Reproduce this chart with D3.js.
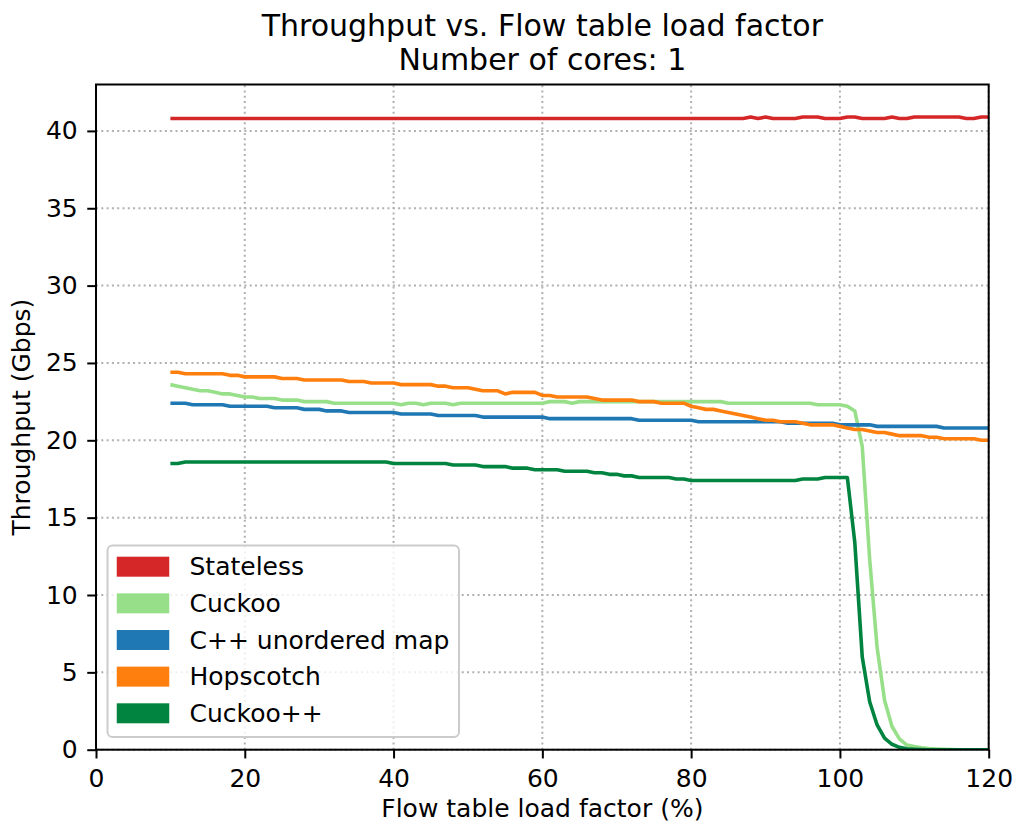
<!DOCTYPE html>
<html>
<head>
<meta charset="utf-8">
<script src="https://cdn.jsdelivr.net/npm/d3@7"></script>
<style>
  html, body { margin: 0; padding: 0; background: #ffffff; }
  svg { display: block; font-family: "DejaVu Sans", sans-serif; }
</style>
</head>
<body>
<svg id="chart" width="1016" height="826"></svg>
<script>
// Flow table load factor (%), one sample per percent
const loadFactor = [
  10, 11, 12, 13, 14, 15, 16, 17, 18, 19,
  20, 21, 22, 23, 24, 25, 26, 27, 28, 29,
  30, 31, 32, 33, 34, 35, 36, 37, 38, 39,
  40, 41, 42, 43, 44, 45, 46, 47, 48, 49,
  50, 51, 52, 53, 54, 55, 56, 57, 58, 59,
  60, 61, 62, 63, 64, 65, 66, 67, 68, 69,
  70, 71, 72, 73, 74, 75, 76, 77, 78, 79,
  80, 81, 82, 83, 84, 85, 86, 87, 88, 89,
  90, 91, 92, 93, 94, 95, 96, 97, 98, 99,
  100, 101, 102, 103, 104, 105, 106, 107, 108, 109,
  110, 111, 112, 113, 114, 115, 116, 117, 118, 119,
  120
];

// Throughput in Gbps for each implementation
const stateless = [
  40.8, 40.8, 40.8, 40.8, 40.8, 40.8, 40.8, 40.8, 40.8, 40.8,
  40.8, 40.8, 40.8, 40.8, 40.8, 40.8, 40.8, 40.8, 40.8, 40.8,
  40.8, 40.8, 40.8, 40.8, 40.8, 40.8, 40.8, 40.8, 40.8, 40.8,
  40.8, 40.8, 40.8, 40.8, 40.8, 40.8, 40.8, 40.8, 40.8, 40.8,
  40.8, 40.8, 40.8, 40.8, 40.8, 40.8, 40.8, 40.8, 40.8, 40.8,
  40.8, 40.8, 40.8, 40.8, 40.8, 40.8, 40.8, 40.8, 40.8, 40.8,
  40.8, 40.8, 40.8, 40.8, 40.8, 40.8, 40.8, 40.8, 40.8, 40.8,
  40.8, 40.8, 40.8, 40.8, 40.8, 40.8, 40.8, 40.8, 40.9, 40.8,
  40.9, 40.8, 40.8, 40.8, 40.8, 40.9, 40.9, 40.9, 40.8, 40.8,
  40.8, 40.9, 40.9, 40.8, 40.8, 40.8, 40.8, 40.9, 40.8, 40.8,
  40.9, 40.9, 40.9, 40.9, 40.9, 40.9, 40.9, 40.8, 40.8, 40.9,
  40.9
];

const cuckoo = [
  23.6, 23.5, 23.4, 23.3, 23.2, 23.2, 23.1, 23.0, 23.0, 22.9,
  22.8, 22.8, 22.7, 22.7, 22.7, 22.6, 22.6, 22.6, 22.5, 22.5,
  22.5, 22.5, 22.4, 22.4, 22.4, 22.4, 22.4, 22.4, 22.4, 22.4,
  22.4, 22.3, 22.4, 22.4, 22.3, 22.4, 22.4, 22.4, 22.3, 22.4,
  22.4, 22.4, 22.4, 22.4, 22.4, 22.4, 22.4, 22.4, 22.4, 22.4,
  22.4, 22.5, 22.5, 22.5, 22.4, 22.5, 22.5, 22.5, 22.5, 22.5,
  22.5, 22.5, 22.5, 22.5, 22.5, 22.5, 22.5, 22.5, 22.5, 22.5,
  22.5, 22.5, 22.5, 22.5, 22.5, 22.4, 22.4, 22.4, 22.4, 22.4,
  22.4, 22.4, 22.4, 22.4, 22.4, 22.4, 22.4, 22.3, 22.3, 22.3,
  22.3, 22.2, 21.9, 19.6, 12.3, 6.6, 3.2, 1.5, 0.7, 0.3,
  0.2, 0.12, 0.07, 0.04, 0.02, 0.01, 0, 0, 0, 0,
  0
];

const cppUnorderedMap = [
  22.4, 22.4, 22.4, 22.3, 22.3, 22.3, 22.3, 22.3, 22.2, 22.2,
  22.2, 22.2, 22.2, 22.2, 22.1, 22.1, 22.1, 22.1, 22.0, 22.0,
  22.0, 21.9, 21.9, 21.9, 21.8, 21.8, 21.8, 21.8, 21.8, 21.8,
  21.8, 21.7, 21.7, 21.7, 21.7, 21.7, 21.6, 21.6, 21.6, 21.6,
  21.6, 21.6, 21.5, 21.5, 21.5, 21.5, 21.5, 21.5, 21.5, 21.5,
  21.5, 21.4, 21.4, 21.4, 21.4, 21.4, 21.4, 21.4, 21.4, 21.4,
  21.4, 21.4, 21.4, 21.3, 21.3, 21.3, 21.3, 21.3, 21.3, 21.3,
  21.3, 21.2, 21.2, 21.2, 21.2, 21.2, 21.2, 21.2, 21.2, 21.2,
  21.2, 21.2, 21.2, 21.1, 21.1, 21.1, 21.1, 21.1, 21.1, 21.1,
  21.0, 21.0, 21.0, 21.0, 21.0, 20.9, 20.9, 20.9, 20.9, 20.9,
  20.9, 20.9, 20.9, 20.9, 20.8, 20.8, 20.8, 20.8, 20.8, 20.8,
  20.8
];

const hopscotch = [
  24.4, 24.4, 24.3, 24.3, 24.3, 24.3, 24.3, 24.3, 24.2, 24.2,
  24.1, 24.1, 24.1, 24.1, 24.1, 24.0, 24.0, 24.0, 23.9, 23.9,
  23.9, 23.9, 23.9, 23.9, 23.8, 23.8, 23.8, 23.7, 23.7, 23.7,
  23.7, 23.6, 23.6, 23.6, 23.6, 23.6, 23.5, 23.5, 23.4, 23.4,
  23.4, 23.3, 23.2, 23.2, 23.2, 23.0, 23.1, 23.1, 23.1, 23.1,
  22.9, 22.9, 22.8, 22.8, 22.8, 22.8, 22.8, 22.7, 22.6, 22.6,
  22.6, 22.6, 22.6, 22.5, 22.5, 22.5, 22.4, 22.4, 22.4, 22.4,
  22.2, 22.1, 22.0, 22.0, 21.9, 21.8, 21.7, 21.6, 21.5, 21.4,
  21.3, 21.3, 21.2, 21.2, 21.2, 21.1, 21.0, 21.0, 21.0, 21.0,
  20.9, 20.8, 20.7, 20.7, 20.6, 20.5, 20.5, 20.4, 20.3, 20.3,
  20.3, 20.3, 20.2, 20.2, 20.1, 20.1, 20.1, 20.1, 20.1, 20.0,
  20.0
];

const cuckooPlusPlus = [
  18.5, 18.5, 18.6, 18.6, 18.6, 18.6, 18.6, 18.6, 18.6, 18.6,
  18.6, 18.6, 18.6, 18.6, 18.6, 18.6, 18.6, 18.6, 18.6, 18.6,
  18.6, 18.6, 18.6, 18.6, 18.6, 18.6, 18.6, 18.6, 18.6, 18.6,
  18.5, 18.5, 18.5, 18.5, 18.5, 18.5, 18.5, 18.5, 18.4, 18.4,
  18.4, 18.4, 18.3, 18.3, 18.3, 18.3, 18.2, 18.2, 18.2, 18.1,
  18.1, 18.1, 18.1, 18.0, 18.0, 18.0, 18.0, 17.9, 17.9, 17.8,
  17.8, 17.7, 17.7, 17.6, 17.6, 17.6, 17.6, 17.6, 17.5, 17.5,
  17.4, 17.4, 17.4, 17.4, 17.4, 17.4, 17.4, 17.4, 17.4, 17.4,
  17.4, 17.4, 17.4, 17.4, 17.4, 17.5, 17.5, 17.5, 17.6, 17.6,
  17.6, 17.6, 13.4, 6.0, 3.1, 1.6, 0.75, 0.35, 0.15, 0.06,
  0.03, 0.01, 0, 0, 0, 0, 0, 0, 0, 0,
  0
];

const seriesNames = ["Stateless", "Cuckoo", "C++ unordered map", "Hopscotch", "Cuckoo++"];
const seriesValues = [stateless, cuckoo, cppUnorderedMap, hopscotch, cuckooPlusPlus];
const seriesColors = ["#d62728", "#98df8a", "#1f77b4", "#ff7f0e", "#00843f"];

const xTicks = [0, 20, 40, 60, 80, 100, 120];
const yTicks = [0, 5, 10, 15, 20, 25, 30, 35, 40];

const titleLines = ["Throughput vs. Flow table load factor", "Number of cores: 1"];
const xLabel = "Flow table load factor (%)";
const yLabel = "Throughput (Gbps)";

// ---- layout ----
const W = 1016, H = 826;
const plot = { left: 96, right: 988.7, top: 84.5, bottom: 749.7 };
const FONT = 25;

const x = d3.scaleLinear().domain([0, 120]).range([plot.left, plot.right]);
const y = d3.scaleLinear().domain([0, 43]).range([plot.bottom, plot.top]);

const svg = d3.select("#chart");
svg.append("rect").attr("width", W).attr("height", H).attr("fill", "#ffffff");

svg.append("defs").append("clipPath").attr("id", "plot-clip")
  .append("rect")
  .attr("x", plot.left).attr("y", plot.top)
  .attr("width", plot.right - plot.left)
  .attr("height", plot.bottom - plot.top);

// dotted grid
const grid = svg.append("g")
  .attr("stroke", "#b0b0b0")
  .attr("stroke-width", 2)
  .attr("stroke-dasharray", "2,3.3")
  .attr("fill", "none");
grid.selectAll("line.gx").data(xTicks).join("line")
  .attr("class", "gx")
  .attr("x1", d => x(d)).attr("x2", d => x(d))
  .attr("y1", plot.bottom).attr("y2", plot.top);
grid.selectAll("line.gy").data(yTicks).join("line")
  .attr("class", "gy")
  .attr("x1", plot.left).attr("x2", plot.right)
  .attr("y1", d => y(d)).attr("y2", d => y(d));

// series lines
const line = d3.line()
  .x((d, i) => x(loadFactor[i]))
  .y(d => y(d));

const lines = svg.append("g").attr("clip-path", "url(#plot-clip)");
seriesValues.forEach((vals, k) => {
  lines.append("path")
    .datum(vals)
    .attr("d", line)
    .attr("fill", "none")
    .attr("stroke", seriesColors[k])
    .attr("stroke-width", 3.6)
    .attr("stroke-linejoin", "round")
    .attr("stroke-linecap", "butt");
});

// axes
const xAxis = d3.axisBottom(x).tickValues(xTicks).tickSize(8.75).tickPadding(11)
  .tickFormat(d3.format("d"));
const yAxis = d3.axisLeft(y).tickValues(yTicks).tickSize(8.75).tickPadding(9.5)
  .tickFormat(d3.format("d"));

const gx = svg.append("g").attr("transform", `translate(0,${plot.bottom})`).call(xAxis);
const gy = svg.append("g").attr("transform", `translate(${plot.left},0)`).call(yAxis);
[gx, gy].forEach(g => {
  g.select(".domain").remove();
  g.selectAll(".tick line").attr("stroke", "#000").attr("stroke-width", 2);
  g.selectAll(".tick text")
    .attr("fill", "#000")
    .style("font-family", "'DejaVu Sans', sans-serif")
    .style("font-size", FONT + "px");
});

// spines
svg.append("rect")
  .attr("x", plot.left).attr("y", plot.top)
  .attr("width", plot.right - plot.left)
  .attr("height", plot.bottom - plot.top)
  .attr("fill", "none")
  .attr("stroke", "#000")
  .attr("stroke-width", 2);

// titles and axis labels
const cx = (plot.left + plot.right) / 2;
svg.append("text").attr("x", cx).attr("y", 36)
  .attr("text-anchor", "middle").attr("font-size", 30).attr("fill", "#000")
  .text(titleLines[0]);
svg.append("text").attr("x", cx).attr("y", 70)
  .attr("text-anchor", "middle").attr("font-size", 30).attr("fill", "#000")
  .text(titleLines[1]);

svg.append("text").attr("x", cx).attr("y", 817)
  .attr("text-anchor", "middle").attr("font-size", FONT).attr("fill", "#000")
  .text(xLabel);

svg.append("text")
  .attr("transform", `translate(29.5,${(plot.top + plot.bottom) / 2}) rotate(-90)`)
  .attr("text-anchor", "middle").attr("font-size", FONT).attr("fill", "#000")
  .text(yLabel);

// legend
const legend = svg.append("g");
legend.append("rect")
  .attr("x", 107.5).attr("y", 545.5)
  .attr("width", 351.5).attr("height", 191.5)
  .attr("rx", 5).attr("ry", 5)
  .attr("fill", "#ffffff").attr("fill-opacity", 0.8)
  .attr("stroke", "#cccccc").attr("stroke-width", 2);

const rowY = d3.scalePoint().domain(seriesNames).range([566.7, 713.3]);
const items = legend.selectAll("g.item").data(seriesNames).join("g")
  .attr("class", "item")
  .attr("transform", d => `translate(0,${rowY(d)})`);
items.append("rect")
  .attr("x", 118).attr("y", -8.75)
  .attr("width", 50).attr("height", 17.5)
  .attr("fill", (d, i) => seriesColors[i])
  .attr("stroke", (d, i) => seriesColors[i])
  .attr("stroke-width", 2.5);
items.append("text")
  .attr("x", 189.5).attr("dy", "0.35em")
  .attr("font-size", FONT).attr("fill", "#000")
  .text(d => d);
</script>
</body>
</html>
